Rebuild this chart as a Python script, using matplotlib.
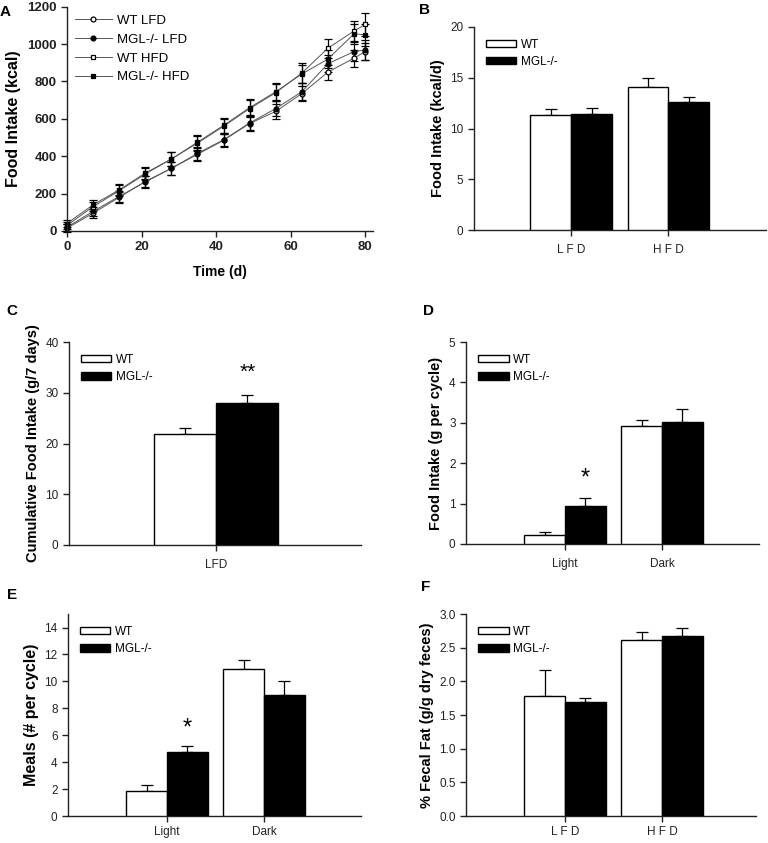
import numpy as np
import matplotlib.pyplot as plt

plt.rcParams['font.family'] = ['Liberation Sans', 'DejaVu Sans']

# panel A: cumulative food intake over time
days = [0, 7, 14, 21, 28, 35, 42, 49, 56, 63, 70, 77, 80]
wt_lfd = [15, 95, 180, 265, 335, 410, 485, 575, 640, 735, 850, 925, 960]
wt_lfd_err = [20, 25, 30, 30, 35, 35, 35, 40, 40, 40, 40, 45, 45]
mgl_lfd = [20, 105, 185, 262, 335, 415, 488, 578, 655, 745, 895, 960, 968]
mgl_lfd_err = [20, 25, 30, 30, 35, 35, 35, 40, 40, 45, 45, 50, 55]
wt_hfd = [30, 130, 215, 305, 385, 470, 560, 655, 740, 845, 978, 1070, 1105]
wt_hfd_err = [20, 25, 30, 30, 35, 40, 40, 45, 45, 55, 50, 55, 60]
mgl_hfd = [40, 140, 220, 310, 385, 475, 565, 660, 745, 840, 920, 1055, 1050]
mgl_hfd_err = [20, 25, 30, 30, 35, 40, 40, 45, 45, 50, 50, 55, 60]

# panel B
b_groups = ['L F D', 'H F D']
b_wt = [11.35, 14.05]
b_wt_err = [0.55, 0.9]
b_mgl = [11.45, 12.6]
b_mgl_err = [0.55, 0.55]

# panel C
c_groups = ['LFD']
c_wt = [21.8]
c_wt_err = [1.3]
c_mgl = [27.95]
c_mgl_err = [1.55]

# panel D
d_groups = ['Light', 'Dark']
d_wt = [0.22, 2.91]
d_wt_err = [0.07, 0.17]
d_mgl = [0.93, 3.03]
d_mgl_err = [0.21, 0.31]

# panel E
e_groups = ['Light', 'Dark']
e_wt = [1.85, 10.92]
e_wt_err = [0.49, 0.69]
e_mgl = [4.73, 9.0]
e_mgl_err = [0.5, 1.06]

# panel F
f_groups = ['L F D', 'H F D']
f_wt = [1.79, 2.61]
f_wt_err = [0.38, 0.13]
f_mgl = [1.69, 2.68]
f_mgl_err = [0.06, 0.12]

fig = plt.figure(figsize=(7.68, 8.43), dpi=100)


def style_axes(ax):
    for s in ['top', 'right']:
        ax.spines[s].set_visible(False)
    for s in ['left', 'bottom']:
        ax.spines[s].set_linewidth(1.0)
        ax.spines[s].set_color('#222222')
    ax.tick_params(direction='out', length=4, width=1.0, colors='#222222', labelsize=8.5)


def bar_panel(rect, groups, wt, wt_err, mgl, mgl_err, ylim, yticks, ylabel, xlim,
              yfmt='{:g}', xlab_size=9, ylab_size=10.5, xpad=6):
    ax = fig.add_axes(rect)
    x = np.arange(len(groups))
    w = 0.42
    ax.bar(x - w / 2, wt, w, color='white', edgecolor='black', linewidth=1.0, label='WT', zorder=3)
    ax.bar(x + w / 2, mgl, w, color='black', edgecolor='black', linewidth=1.0, label='MGL-/-', zorder=3)
    ax.errorbar(x - w / 2, wt, yerr=[np.zeros(len(wt)), wt_err], fmt='none', ecolor='black',
                elinewidth=0.9, capsize=4, capthick=0.9, zorder=2)
    ax.errorbar(x + w / 2, mgl, yerr=[np.zeros(len(mgl)), mgl_err], fmt='none', ecolor='black',
                elinewidth=0.9, capsize=4, capthick=0.9, zorder=2)
    ax.set_xlim(*xlim)
    ax.set_ylim(*ylim)
    ax.set_yticks(yticks)
    ax.set_yticklabels([yfmt.format(t) for t in yticks])
    ax.set_xticks(x)
    ax.set_xticklabels(groups, fontsize=xlab_size)
    ax.set_ylabel(ylabel, fontsize=ylab_size, fontweight='bold')
    style_axes(ax)
    ax.tick_params(axis='x', pad=xpad)
    ax.legend(loc='upper left', frameon=False, fontsize=8.5, handlelength=2.6, handleheight=0.55,
              borderaxespad=0.6, labelspacing=0.45, handletextpad=0.4)
    return ax


# ---- A ----
axA = fig.add_axes([0.0872, 0.726, 0.398, 0.266])
series = [
    (wt_lfd, wt_lfd_err, 'o', 'white', 'WT LFD'),
    (mgl_lfd, mgl_lfd_err, 'o', 'black', 'MGL-/- LFD'),
    (wt_hfd, wt_hfd_err, 's', 'white', 'WT HFD'),
    (mgl_hfd, mgl_hfd_err, 's', 'black', 'MGL-/- HFD'),
]
for vals, err, mk, fc, lab in series:
    axA.errorbar(days, vals, yerr=err, fmt='-', marker=mk, ms=3.5, mfc=fc, mec='black', mew=0.9,
                 color='#555555', lw=0.7, ecolor='black', elinewidth=0.9, capsize=3, capthick=0.9,
                 label=lab, clip_on=False)
axA.set_xlim(0, 82)
axA.set_ylim(0, 1200)
axA.set_xticks([0, 20, 40, 60, 80])
axA.set_yticks(range(0, 1201, 200))
style_axes(axA)
axA.tick_params(labelsize=9.5)
for lab in axA.get_xticklabels() + axA.get_yticklabels():
    lab.set_fontweight('bold')
axA.set_xlabel('Time (d)', fontsize=10, fontweight='bold', labelpad=8)
axA.set_ylabel('Food Intake (kcal)', fontsize=11.5, fontweight='bold')
handles, labels = axA.get_legend_handles_labels()
handles = [h[0] for h in handles]
axA.legend(handles, labels, loc='upper left', frameon=False, fontsize=9.5, handlelength=2.8,
           borderaxespad=0.2, labelspacing=0.5, handletextpad=0.4, bbox_to_anchor=(0.0, 1.0))

# ---- B ----
bar_panel([0.617, 0.727, 0.380, 0.241], b_groups, b_wt, b_wt_err, b_mgl, b_mgl_err,
          (0, 20), [0, 5, 10, 15, 20], 'Food Intake (kcal/d)', (-1, 2))

# ---- C ----
axC = bar_panel([0.0898, 0.3535, 0.380, 0.2408], c_groups, c_wt, c_wt_err, c_mgl, c_mgl_err,
                (0, 40), [0, 10, 20, 30, 40], 'Cumulative Food Intake (g/7 days)', (-1, 0.98),
                ylab_size=10.5)
axC.text(0.21, 34.0, '**', ha='center', va='center', fontsize=15)

# ---- D ----
axD = bar_panel([0.6068, 0.3547, 0.3815, 0.2396], d_groups, d_wt, d_wt_err, d_mgl, d_mgl_err,
                (0, 5), [0, 1, 2, 3, 4, 5], 'Food Intake (g per cycle)', (-1.02, 2.0),
                xlab_size=10.5)
axD.text(0.21, 1.62, '*', ha='center', va='center', fontsize=17)

# ---- E ----
axE = bar_panel([0.0885, 0.032, 0.3815, 0.2396], e_groups, e_wt, e_wt_err, e_mgl, e_mgl_err,
                (0, 15), [0, 2, 4, 6, 8, 10, 12, 14], 'Meals (# per cycle)', (-1.02, 2.0),
                xlab_size=10, ylab_size=11.5, xpad=3)
axE.text(0.21, 6.5, '*', ha='center', va='center', fontsize=17)

# ---- F ----
bar_panel([0.6068, 0.032, 0.3776, 0.2396], f_groups, f_wt, f_wt_err, f_mgl, f_mgl_err,
          (0, 3), [0, 0.5, 1.0, 1.5, 2.0, 2.5, 3.0], '% Fecal Fat (g/g dry feces)', (-1.02, 1.97),
          yfmt='{:.1f}', xpad=3)

# panel letters
for letter, (px, py) in {'A': (5, 12), 'B': (424, 10), 'C': (12, 311),
                         'D': (429, 311), 'E': (12, 595), 'F': (426, 587)}.items():
    fig.text(px / 768, 1 - py / 843, letter, fontsize=11, fontweight='bold', ha='center', va='center')

plt.savefig('out.png', dpi=100)
